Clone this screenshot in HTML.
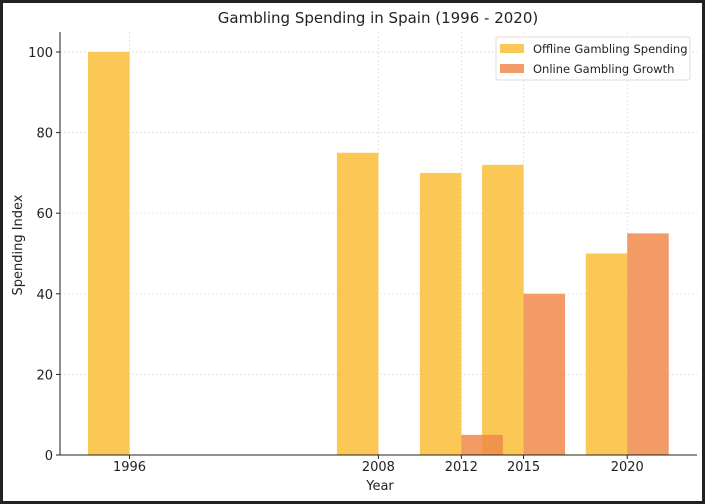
<!DOCTYPE html>
<html><head><meta charset="utf-8"><style>
html,body{margin:0;padding:0;background:#fff}
svg{display:block;font-family:"DejaVu Sans","Liberation Sans",sans-serif}
</style></head><body>
<svg width="705" height="504" viewBox="0 0 705 504">
<rect x="1.5" y="1.5" width="702" height="501" fill="#fff" stroke="#222" stroke-width="3"/>
<text x="378" y="23" text-anchor="middle" font-size="15" fill="#222">Gambling Spending in Spain (1996 - 2020)</text>
<g id="grid"></g><g id="bars"></g><g id="axes"></g>
<text x="380" y="490" text-anchor="middle" font-size="13" fill="#222">Year</text>
<text transform="translate(22,245) rotate(-90)" text-anchor="middle" font-size="13" fill="#222">Spending Index</text>
<g>
<rect x="496" y="37" width="194" height="43" fill="#fff" fill-opacity="0.85" stroke="#ddd" rx="2"/>
<rect x="500" y="44" width="24" height="9" fill="#fbc143" fill-opacity="0.9"/>
<text x="533" y="53" font-size="11.5" fill="#222">Offline Gambling Spending</text>
<rect x="500" y="64" width="24" height="9" fill="#f08a4b" fill-opacity="0.85"/>
<text x="533" y="73" font-size="11.5" fill="#222">Online Gambling Growth</text>
</g>
</svg>
<script>
const years=[1996,2008,2012,2015,2020];
const offline=[100,75,70,72,50];
const online=[0,0,5,40,55];
const yTicks=[0,20,40,60,80,100];
const NS="http://www.w3.org/2000/svg";
function xS(y){return 129.5+(y-1996)*20.74;}
function yS(v){return 455-v*4.03;}
function mk(t,a,p){const e=document.createElementNS(NS,t);for(const k in a)e.setAttribute(k,a[k]);p.appendChild(e);return e;}
const grid=document.getElementById('grid'),bars=document.getElementById('bars'),axes=document.getElementById('axes');
yTicks.forEach(v=>{
 const l=mk('line',{x1:60,x2:697,y1:yS(v),y2:yS(v),stroke:'#d8d8d8','stroke-dasharray':'2,2','stroke-width':0.7},grid);
 
 
 const tk=mk('line',{x1:56,x2:60,y1:yS(v),y2:yS(v),stroke:'#222'},axes);
 
 
 const t=mk('text',{x:53,y:yS(v)+5,'text-anchor':'end','font-size':13,fill:'#222'},axes);
 t.textContent=v;
 
 
});
years.forEach((yr,i)=>{
 const x=xS(yr);
 const g=mk('line',{x1:x,x2:x,y1:32,y2:455,stroke:'#d8d8d8','stroke-dasharray':'2,2','stroke-width':0.7},grid);
 
 
 const tk=mk('line',{x1:x,x2:x,y1:455,y2:459,stroke:'#222'},axes);
 
 
 const t=mk('text',{x:x,y:471,'text-anchor':'middle','font-size':13,fill:'#222'},axes);
 t.textContent=yr;
 
 
});
const w=2*20.74;
years.forEach((yr,i)=>{
 const b=mk('rect',{x:xS(yr)-w,y:yS(offline[i]),width:w,height:455-yS(offline[i]),fill:'#fbc143','fill-opacity':0.9},bars);
 
 
});
years.forEach((yr,i)=>{
 const b=mk('rect',{x:xS(yr),y:yS(online[i]),width:w,height:455-yS(online[i]),fill:'#f08a4b','fill-opacity':0.85},bars);
 
 
});
const ls=mk('line',{x1:60,x2:60,y1:32,y2:455,stroke:'#222'},axes);


const bs=mk('line',{x1:60,x2:697,y1:455,y2:455,stroke:'#222'},axes);


</script>
</body></html>
